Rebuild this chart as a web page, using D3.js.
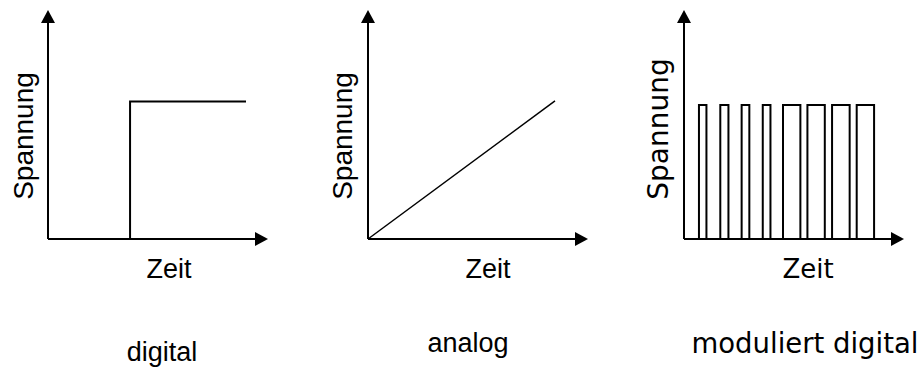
<!DOCTYPE html>
<html>
<head>
<meta charset="utf-8">
<script src="https://cdn.jsdelivr.net/npm/d3@7"></script>
<style>
  body { margin: 0; background: #fff; }
  svg { display: block; }
</style>
</head>
<body>
<div class="vis"></div>
<script>
// signal data (time / voltage units, axes run 0..10)
const digitalTime = [0, 3.73, 3.73, 9.0];
const digitalVolt = [0, 0, 6.0, 6.0];

const analogTime = [0, 8.5];
const analogVolt = [0, 6.03];

const pulseStart = [0.68, 1.65, 2.62, 3.58, 4.50, 5.61, 6.73, 7.85];
const pulseEnd = [1.02, 2.02, 2.97, 3.93, 5.29, 6.40, 7.53, 8.64];
const pulseHigh = 5.85;
const pulseTail = 8.9;

const panelTitles = ["digital", "analog", "moduliert digital"];
const xTitle = "Zeit";
const yTitle = "Spannung";

const width = 923, height = 373;
const axisW = 220, axisH = 229;
const marginTop = 10;

const svg = d3.select(".vis").append("svg")
    .attr("width", width)
    .attr("height", height);

const x = d3.scaleLinear().domain([0, 10]).range([0, axisW]);
const y = d3.scaleLinear().domain([0, 10]).range([axisH, 0]);
const line = d3.line().x(d => x(d[0])).y(d => y(d[1]));

const arial = "'Liberation Sans', Arial, sans-serif";
const dejavu = "'DejaVu Sans', Verdana, sans-serif";

// one panel = origin of axes, fonts, label positions
const panels = [
    { ox: 48, font: arial, zeitX: 169, spanX: 33, spanY: 136, spanSize: 28, zeitSize: 27,
      title: { x: 162, y: 361, size: 27 },
      pts: digitalTime.map((t, i) => [t, digitalVolt[i]]), sw: 2 },
    { ox: 368, font: arial, zeitX: 488, spanX: 352, spanY: 136, spanSize: 28, zeitSize: 27,
      title: { x: 468, y: 352, size: 27 },
      pts: analogTime.map((t, i) => [t, analogVolt[i]]), sw: 1.5 },
    { ox: 684, font: dejavu, zeitX: 808, spanX: 668, spanY: 129, spanSize: 28, zeitSize: 26,
      title: { x: 805, y: 353, size: 27.5 },
      pts: null, sw: 2 }
];

// pulse train path
let pulsePts = [[0, 0]];
pulseStart.forEach((s, i) => {
    pulsePts.push([s, 0], [s, pulseHigh], [pulseEnd[i], pulseHigh], [pulseEnd[i], 0]);
});
pulsePts.push([pulseTail, 0]);
panels[2].pts = pulsePts;

panels.forEach((p, i) => {
    const g = svg.append("g").attr("transform", `translate(${p.ox},${marginTop})`);

    // signal
    g.append("path")
        .attr("d", line(p.pts))
        .attr("fill", "none")
        .attr("stroke", "#000")
        .attr("stroke-width", p.sw)
        .attr("stroke-linejoin", "miter");

    // axes
    g.append("line")
        .attr("x1", 0).attr("y1", axisH)
        .attr("x2", 0).attr("y2", 12)
        .attr("stroke", "#000").attr("stroke-width", 2);
    g.append("line")
        .attr("x1", 0).attr("y1", axisH)
        .attr("x2", axisW - 12).attr("y2", axisH)
        .attr("stroke", "#000").attr("stroke-width", 2);

    // arrow heads
    g.append("path")
        .attr("d", `M0,0 L7,13 L-7,13 Z`)
        .attr("fill", "#000");
    g.append("path")
        .attr("d", `M${axisW},${axisH} L${axisW - 13},${axisH - 7} L${axisW - 13},${axisH + 7} Z`)
        .attr("fill", "#000");

    // axis titles
    svg.append("text")
        .attr("x", p.zeitX)
        .attr("y", 278)
        .attr("text-anchor", "middle")
        .style("font-family", p.font)
        .style("font-size", p.zeitSize + "px")
        .attr("fill", "#000")
        .text(xTitle);

    svg.append("text")
        .attr("transform", `translate(${p.spanX},${p.spanY}) rotate(-90)`)
        .attr("text-anchor", "middle")
        .style("font-family", p.font)
        .style("font-size", p.spanSize + "px")
        .attr("fill", "#000")
        .text(yTitle);

    // panel caption
    svg.append("text")
        .attr("x", p.title.x)
        .attr("y", p.title.y)
        .attr("text-anchor", "middle")
        .style("font-family", p.font)
        .style("font-size", p.title.size + "px")
        .attr("fill", "#000")
        .text(panelTitles[i]);
});
</script>
</body>
</html>
